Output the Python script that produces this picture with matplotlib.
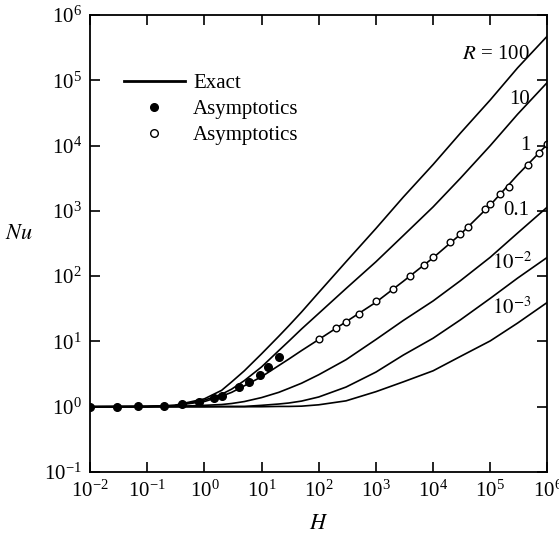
import matplotlib
matplotlib.use('Agg')
import matplotlib.pyplot as plt
from matplotlib.lines import Line2D

plt.rcParams['font.family'] = 'serif'
plt.rcParams['font.serif'] = ['Liberation Serif', 'DejaVu Serif']
plt.rcParams['mathtext.fontset'] = 'stix'

# grid of H values the exact curves were read at
H = [0.01, 0.1, 0.3, 1, 2, 3, 5, 10, 20, 30, 50, 100, 300, 1e3, 3e3, 1e4, 3e4, 1e5, 3e5, 1e6]

nu_r100 = [1.0, 1.01, 1.05, 1.32, 1.78, 2.40, 3.55, 6.46, 12.0, 17.4, 28.2, 56.2,
           166, 537, 1620, 5130, 15500, 50100, 155000, 479000]
nu_r10 = [1.0, 1.01, 1.04, 1.26, 1.55, 1.86, 2.51, 4.07, 7.24, 10.1, 15.5, 26.9,
          64.6, 166, 417, 1150, 3160, 10000, 30200, 93300]
nu_r1 = [1.0, 1.01, 1.04, 1.20, 1.45, 1.66, 2.09, 2.88, 4.27, 5.37, 7.24, 10.7,
         20.0, 39.8, 83.2, 191, 437, 1230, 3550, 10500]
nu_r01 = [1.0, 1.0, 1.01, 1.05, 1.08, 1.12, 1.20, 1.38, 1.66, 1.91, 2.29, 3.09,
          5.25, 10.7, 20.9, 41.7, 85.1, 195, 457, 1150]
nu_r001 = [1.0, 1.0, 1.0, 1.0, 1.01, 1.01, 1.01, 1.05, 1.10, 1.14, 1.22, 1.41,
           2.0, 3.39, 6.17, 11.2, 21.4, 45.7, 93.3, 195]
nu_r0001 = [1.0, 1.0, 1.0, 1.0, 1.0, 1.0, 1.0, 1.0, 1.01, 1.01, 1.02, 1.07,
            1.23, 1.70, 2.40, 3.55, 5.89, 10.2, 19.1, 39.8]

curves = [nu_r100, nu_r10, nu_r1, nu_r01, nu_r001, nu_r0001]

# small-H asymptotics (filled dots)
h_small = [0.01, 0.03, 0.07, 0.2, 0.4, 0.8, 1.5, 2, 4, 6, 9.5, 13, 20]
nu_small = [1, 1, 1.01, 1.03, 1.12, 1.17, 1.36, 1.45, 1.98, 2.42, 3.1, 4.05, 5.8]

# large-H asymptotics (open circles)
h_large = [1e2, 2e2, 3e2, 5e2, 1e3, 2e3, 4e3, 7e3, 1e4, 2e4, 3e4, 4e4, 8e4, 1e5,
           1.5e5, 2.1e5, 4.6e5, 7e5, 1e6]
nu_large = [10.9, 15.8, 20, 26, 41, 63, 102, 148, 194, 330, 450, 570, 1070, 1270,
            1800, 2340, 5000, 7600, 10500]

labels = [r'$R$ = 100', '10', '1', '0.1', r'$10^{-2}$', r'$10^{-3}$']
label_x = [1.26e5, 3.3e5, 4.1e5, 2.9e5, 2.4e5, 2.4e5]
label_y = [2.5e5, 5.1e4, 1.02e4, 1.0e3, 1.6e2, 3.2e1]

fig = plt.figure(figsize=(5.59, 5.36), dpi=100)
ax = fig.add_axes([0.161, 0.1194, 0.8184, 0.8526])

for nu in curves:
    ax.plot(H, nu, color='black', lw=1.2)

ax.plot(h_small, nu_small, 'o', color='black', ms=5.5, ls='none')
ax.plot(h_large, nu_large, 'o', mfc='white', mec='black', mew=1.0, ms=4.8, ls='none')

for t, x, y in zip(labels, label_x, label_y):
    ax.text(x, y, t, fontsize=15, ha='center', va='center')

ax.set_xscale('log')
ax.set_yscale('log')
ax.set_xlim(1e-2, 1e6)
ax.set_ylim(1e-1, 1e6)
ax.set_xticks([10.0**k for k in range(-2, 7)])
ax.set_yticks([10.0**k for k in range(-1, 7)])
ax.minorticks_off()
ax.tick_params(which='major', direction='in', length=7, width=1.2,
               top=True, right=True, labelsize=15, pad=6)
for s in ax.spines.values():
    s.set_linewidth(1.3)

ax.set_xlabel('$H$', fontsize=16, labelpad=10)
ax.set_ylabel('$Nu$', fontsize=16, rotation=0, labelpad=18)

handles = [Line2D([], [], color='black', lw=2),
           Line2D([], [], marker='o', color='black', ls='none', ms=5.5),
           Line2D([], [], marker='o', mfc='white', mec='black', ls='none', ms=5.5)]
ax.legend(handles, ['Exact', 'Asymptotics', 'Asymptotics'], loc='upper left',
          bbox_to_anchor=(0.052, 0.895), frameon=False, fontsize=15,
          handlelength=2.9, handletextpad=0.4, labelspacing=0.32, borderpad=0)

fig.savefig('out.png', dpi=100)
